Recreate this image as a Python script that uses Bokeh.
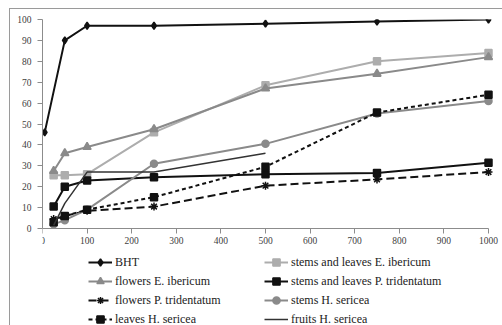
from bokeh.plotting import figure
from bokeh.models import Legend, LegendItem, FixedTicker, Range1d
from bokeh.embed import file_html
from bokeh.resources import INLINE

# ---- data ----
x_bht = [5, 50, 100, 250, 500, 750, 1000]
y_bht = [46, 90, 97, 97, 98, 99, 100]

x_std = [25, 50, 100, 250, 500, 750, 1000]
y_sl_eib = [25.5, 25.5, 26, 46, 68.5, 80, 84]
y_fl_eib = [27.5, 36, 39, 47.5, 67, 74, 82]
y_sl_ptr = [10.5, 20, 23, 24.5, 26, 26.5, 31.5]
y_fl_ptr = [4.5, 6, 8.5, 10.5, 20.5, 23.5, 27]
y_st_hs = [2, 4, 9, 31, 40.5, 55, 61]
y_lv_hs = [3, 6, 9, 15, 29.5, 55.5, 64]

x_fr_hs = [25, 50, 100, 250, 500]
y_fr_hs = [1.5, 12, 27, 27, 36]

x_ticks = [0, 100, 200, 300, 400, 500, 600, 700, 800, 900, 1000]
y_ticks = [0, 10, 20, 30, 40, 50, 60, 70, 80, 90, 100]

BLACK = "#111111"
LIGHT = "#adadad"
MID = "#8a8a8a"

W, H = 502, 325
TOP, AXIS_Y, LEFT, RIGHT = 19, 228, 42, 488
y_min = -100.0 * (H - AXIS_Y) / (AXIS_Y - TOP)     # room below 0 for the legend
x_max = 1000.0 * (W - LEFT) / (RIGHT - LEFT)       # room right of 1000 for its label

p = figure(width=W, height=H, output_backend="svg", toolbar_location=None,
           x_range=Range1d(0, x_max), y_range=Range1d(y_min, 100),
           min_border_left=LEFT, min_border_top=TOP, min_border_right=0,
           min_border_bottom=0)
p.border_fill_color = None
p.background_fill_color = None
p.outline_line_color = None
p.styles = {
    "background": "linear-gradient(#9a9a9a, #9a9a9a) 9px 8px / 1px 100% no-repeat, "
                  "linear-gradient(#9a9a9a, #9a9a9a) 9px 8px / 100% 1px no-repeat"
}
p.xgrid.visible = False
p.ygrid.visible = False

for ax, ticks in ((p.xaxis, x_ticks), (p.yaxis, y_ticks)):
    ax.ticker = FixedTicker(ticks=ticks)
    ax.axis_line_color = "#8c8c8c"
    ax.major_tick_line_color = "#8c8c8c"
    ax.minor_tick_line_color = None
    ax.major_tick_in = 0
    ax.major_tick_out = 5
    ax.major_label_text_font = "Liberation Serif"
    ax.major_label_text_font_size = "9.5px"
    ax.major_label_text_color = "#404040"
p.yaxis.major_label_standoff = 6
p.xaxis.major_label_standoff = 3
p.yaxis.bounds = (0, 100)
p.xaxis.bounds = (0, 1000)
p.xaxis.fixed_location = 0

def series(x, y, color, width, dash, marker, msize, mfill=True):
    rs = [p.line(x, y, line_color=color, line_width=width, line_dash=dash)]
    if marker:
        rs.append(p.scatter(x, y, marker=marker, size=msize,
                            line_color=color, fill_color=color if mfill else None,
                            line_width=1.5))
    return rs

r_bht = series(x_bht, y_bht, BLACK, 2, "solid", "diamond", 7)
r_sl_eib = series(x_std, y_sl_eib, LIGHT, 2, "solid", "square", 7)
r_fl_eib = series(x_std, y_fl_eib, MID, 2, "solid", "triangle", 8)
r_sl_ptr = series(x_std, y_sl_ptr, BLACK, 2, "solid", "square", 7)
r_fl_ptr = series(x_std, y_fl_ptr, BLACK, 2, "8 4", "asterisk", 8, mfill=False)
r_st_hs = series(x_std, y_st_hs, MID, 2, "solid", "circle", 7)
r_lv_hs = series(x_std, y_lv_hs, BLACK, 2, "4 3", "square", 7)
r_fr_hs = series(x_fr_hs, y_fr_hs, "#333333", 1.5, "solid", None, 0)

# column-major order: left column then right column
items = [("BHT", r_bht), ("flowers E. ibericum", r_fl_eib),
         ("flowers P. tridentatum", r_fl_ptr), ("leaves H. sericea", r_lv_hs),
         ("stems and leaves E. ibericum", r_sl_eib),
         ("stems and leaves P. tridentatum", r_sl_ptr),
         ("stems H. sericea", r_st_hs), ("fruits H. sericea", r_fr_hs)]

lg = Legend(items=[LegendItem(label=l, renderers=r) for l, r in items],
            orientation="vertical", ncols=2, location=(46, -3))
lg.border_line_color = None
lg.background_fill_alpha = 0
lg.padding = 0
lg.margin = 0
lg.spacing = 1
lg.glyph_width = 24
lg.glyph_height = 18
lg.label_height = 18
lg.label_width = 148
lg.label_standoff = 3
lg.label_text_font = "Liberation Serif"
lg.label_text_font_size = "12px"
lg.label_text_color = "#222222"
p.add_layout(lg)

open("out.html", "w").write(file_html(p, INLINE))
